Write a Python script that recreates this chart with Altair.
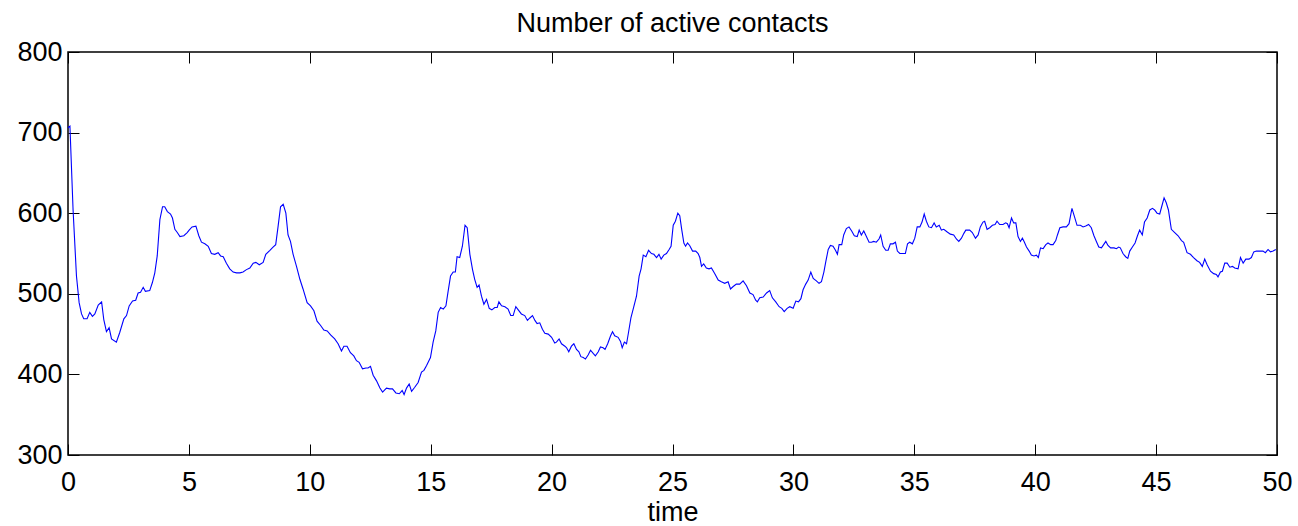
import altair as alt
import pandas as pd

# ---- data ----
time = [
    0.0, 0.08, 0.21, 0.35, 0.46, 0.56, 0.65, 0.79, 0.9, 1.01, 1.11, 1.25, 1.39, 1.48, 1.59, 1.7, 1.8, 2.0,
    2.14, 2.31, 2.42, 2.53, 2.67, 2.8, 2.9, 3.0, 3.11, 3.2, 3.38, 3.49, 3.59, 3.69, 3.8, 3.91, 4.0, 4.11,
    4.24, 4.32, 4.42, 4.52, 4.63, 4.79, 4.93, 5.01, 5.13, 5.29, 5.41, 5.52, 5.66, 5.8, 5.93, 6.07, 6.21,
    6.31, 6.42, 6.55, 6.69, 6.83, 6.97, 7.11, 7.24, 7.38, 7.52, 7.66, 7.77, 7.91, 8.07, 8.18,
    8.35, 8.48, 8.59, 8.69, 8.79, 8.9, 9.01, 9.1, 9.2, 9.31, 9.45, 9.59, 9.72, 9.89, 10.03, 10.17, 10.3,
    10.44, 10.58, 10.72, 10.86, 11.03, 11.17, 11.31, 11.41, 11.54, 11.68, 11.82, 11.93, 12.04, 12.18,
    12.32, 12.41, 12.51, 12.62, 12.76, 12.9, 13.01, 13.17, 13.31, 13.42, 13.56, 13.7, 13.82, 13.9, 14.0,
    14.11, 14.21, 14.34, 14.48, 14.62, 14.72, 14.83, 14.99, 15.1, 15.21, 15.31, 15.41, 15.52, 15.63,
    15.72, 15.82, 15.93, 16.02, 16.09, 16.2, 16.31, 16.42,
    16.51, 16.62, 16.73, 16.82, 16.92, 17.0, 17.1, 17.2, 17.31, 17.42, 17.53, 17.65, 17.75, 17.82, 17.93,
    18.07, 18.2, 18.31, 18.41, 18.52, 18.62, 18.75, 18.89, 19.0, 19.1, 19.21, 19.31, 19.4, 19.51, 19.62,
    19.72, 19.86, 20.0, 20.13, 20.2, 20.31, 20.41, 20.55, 20.62, 20.71, 20.82, 20.92, 21.03, 21.13,
    21.21, 21.31, 21.4, 21.51, 21.61, 21.72, 21.81, 21.93, 22.02, 22.13, 22.21, 22.32, 22.44, 22.52,
    22.61, 22.75, 22.85, 22.92, 23.01, 23.1, 23.18, 23.28, 23.4, 23.51, 23.62, 23.7, 23.79, 23.9, 24.01,
    24.13, 24.23, 24.34, 24.44, 24.53, 24.64,
    24.75, 24.86, 24.94, 25.03, 25.12, 25.22, 25.3, 25.38, 25.47, 25.54, 25.62, 25.71, 25.83, 25.96,
    26.06, 26.13, 26.2, 26.29, 26.4, 26.51, 26.61, 26.75, 26.89, 27.02, 27.16, 27.3, 27.4, 27.51, 27.64,
    27.78, 27.92, 28.06, 28.2, 28.33, 28.44, 28.51, 28.61, 28.75, 28.89, 29.02, 29.13, 29.27, 29.41,
    29.52, 29.62, 29.74, 29.85, 29.99, 30.1, 30.21, 30.31, 30.4, 30.51, 30.61, 30.72, 30.82, 30.95,
    31.06, 31.16, 31.26, 31.34, 31.44, 31.53, 31.64, 31.74, 31.82, 31.89, 32.0, 32.08, 32.19, 32.3,
    32.41, 32.52, 32.64, 32.72, 32.81, 32.91, 32.99,
    33.13, 33.23, 33.32, 33.43, 33.54, 33.61, 33.71, 33.82, 33.92, 34.01, 34.12, 34.22, 34.3, 34.4,
    34.54, 34.63, 34.72, 34.81, 34.92, 35.02, 35.12, 35.23, 35.32, 35.41, 35.5, 35.6, 35.71, 35.82,
    35.91, 36.03, 36.12, 36.22, 36.35, 36.49, 36.63, 36.74, 36.84, 36.95, 37.05, 37.13, 37.29, 37.4,
    37.53, 37.64, 37.73, 37.84, 37.91, 38.01, 38.12, 38.23, 38.34, 38.42, 38.53, 38.67, 38.78, 38.85,
    38.92, 39.02, 39.11, 39.2, 39.29, 39.39, 39.47, 39.54, 39.64, 39.75, 39.84, 39.95, 40.05, 40.13,
    40.22, 40.33, 40.44, 40.53, 40.64, 40.74, 40.85, 40.92, 41.02, 41.15,
    41.29, 41.4, 41.52, 41.62, 41.73, 41.87, 41.98, 42.09, 42.21, 42.32, 42.43, 42.53, 42.63, 42.74,
    42.83, 42.92, 43.01, 43.12, 43.26, 43.36, 43.45, 43.52, 43.63, 43.74, 43.83, 43.91, 44.02, 44.13,
    44.23, 44.32, 44.43, 44.52, 44.63, 44.74, 44.85, 44.94, 45.04, 45.15, 45.23, 45.33, 45.42, 45.51,
    45.63, 45.77, 45.91, 46.05, 46.14, 46.28, 46.42, 46.55, 46.69, 46.8, 46.91, 47.01, 47.11, 47.25,
    47.38, 47.49, 47.56, 47.66, 47.74, 47.84, 47.94, 48.05, 48.16, 48.25, 48.39, 48.49, 48.6, 48.71,
    48.84, 48.94, 49.04, 49.15, 49.29, 49.42, 49.52, 49.63, 49.73, 49.84, 49.95,
]
contacts = [
    706, 708, 604, 522, 489, 475, 469, 469, 477, 472, 475, 486, 490, 468, 453, 458, 444, 440,
    452, 469, 473, 485, 491, 492, 501, 502, 508, 503, 504, 514, 526, 547, 592, 608, 608, 602,
    599, 594, 580, 576, 571, 572, 576, 579, 583, 584, 572, 564, 562, 559, 550, 549, 551,
    547, 546, 538, 531, 527, 526, 526, 527, 530, 532, 538, 539, 536, 539, 549,
    554, 558, 561, 584, 608, 611, 600, 573, 565, 549, 534, 518, 506, 489, 485, 479, 466,
    461, 455, 454, 449, 444, 438, 429, 435, 435, 427, 423, 417, 415, 407,
    408, 408, 410, 399, 392, 383, 378, 383, 382, 382, 377, 376, 380, 375, 383,
    388, 379, 384, 390, 403, 405, 411, 421, 440, 454, 477, 483, 481, 485,
    503, 522, 527, 527, 546, 545, 559, 585,
    582, 549, 530, 518, 508, 511, 497, 487, 493, 482, 480, 483, 483, 490, 485,
    484, 481, 473, 473, 484, 480, 475, 473, 467, 470, 473, 467, 463, 464, 456,
    451, 450, 446, 439, 440, 444, 438, 435, 433, 428, 435, 438, 431, 428,
    422, 421, 419, 424, 430, 426, 423, 428, 434, 433, 431, 438, 448, 453,
    448, 446, 441, 433, 440, 438, 452, 470, 484, 497, 522, 531, 548, 546, 554,
    550, 549, 545, 549, 543, 548,
    550, 555, 559, 585, 590, 600, 597, 580, 563, 559, 563, 560, 553, 553,
    550, 545, 534, 537, 532, 531, 532, 525, 517, 515, 513, 515, 506, 509, 512,
    512, 516, 510, 501, 499, 492, 490, 495, 496, 501, 504, 495, 490, 484,
    482, 478, 482, 484, 482, 491, 490, 494, 505, 512, 517, 527, 519, 516,
    513, 515, 527, 540, 555, 560, 559, 554, 549, 561, 561, 573, 581, 583,
    578, 572, 571, 579, 573, 578, 573,
    564, 564, 565, 564, 568, 573, 559, 554, 554, 562, 562, 564, 553, 550,
    550, 550, 562, 564, 562, 569, 583, 583, 589, 599, 590, 583, 582, 588,
    583, 585, 579, 580, 577, 574, 573, 568, 565, 569, 575, 579, 579, 576,
    569, 573, 583, 589, 590, 580, 582, 585, 586, 590, 586, 586, 588, 587,
    582, 594, 588, 588, 571, 565, 569, 565, 558, 553, 548, 547, 548, 545,
    557, 556, 561, 563, 561, 561, 566, 573, 582, 583,
    583, 587, 606, 596, 585, 585, 583, 584, 586, 582, 572, 565, 558, 557,
    561, 565, 560, 557, 557, 556, 558, 557, 550, 546, 544, 553, 558, 563,
    572, 579, 573, 589, 594, 604, 606, 604, 600, 599, 608, 619, 613, 604,
    580, 576, 572, 566, 564, 551, 549, 545, 541, 539, 534, 543, 536, 528,
    525, 524, 521, 527, 528, 538, 538, 533, 534, 532, 531, 545, 538, 543,
    543, 545, 552, 553, 553, 553, 551, 555, 552, 553, 555,
]
x_ticks = [0, 5, 10, 15, 20, 25, 30, 35, 40, 45, 50]
y_ticks = [300, 400, 500, 600, 700, 800]
title_text = "Number of active contacts"
x_title = "time"

df = pd.DataFrame({"time": time, "contacts": contacts})

W, H = 1209, 403
FONT = "Liberation Sans"
FS = 27
TICK = 11

xs = alt.Scale(domain=[0, 50], nice=False, zero=False)
ys = alt.Scale(domain=[300, 800], nice=False, zero=False)

base = alt.Chart(df)

main = base.mark_line(color="#0000ff", strokeWidth=1.1).encode(
    x=alt.X(
        "time:Q",
        scale=xs,
        axis=alt.Axis(
            orient="bottom", values=x_ticks, ticks=False, tickSize=0, domain=False, grid=False,
            labelPadding=14, labelFontSize=FS, labelFont=FONT, labelColor="black",
            labelFlush=False, labelOverlap=False,
            title=x_title, titleFontSize=FS, titleFont=FONT, titleFontWeight="normal",
            titleColor="black", titlePadding=4,
        ),
    ),
    y=alt.Y(
        "contacts:Q",
        scale=ys,
        axis=alt.Axis(
            orient="left", values=y_ticks, ticks=False, tickSize=0, domain=False, grid=False,
            labelPadding=6, labelFontSize=FS, labelFont=FONT, labelColor="black",
            labelFlush=False, labelOverlap=False, title=None,
        ),
    ),
)


def tick_axis(orient, vals):
    return alt.Axis(
        orient=orient, values=vals, labels=False, domain=False, grid=False, ticks=True,
        tickSize=TICK, tickColor="black", tickWidth=1, offset=-TICK, title=None,
    )


layer_bl = base.mark_line(strokeOpacity=0).encode(
    x=alt.X("time:Q", scale=xs, axis=tick_axis("bottom", x_ticks)),
    y=alt.Y("contacts:Q", scale=ys, axis=tick_axis("left", y_ticks)),
)
layer_tr = base.mark_line(strokeOpacity=0).encode(
    x=alt.X("time:Q", scale=xs, axis=tick_axis("top", x_ticks)),
    y=alt.Y("contacts:Q", scale=ys, axis=tick_axis("right", y_ticks)),
)

chart = (
    alt.layer(main, layer_bl, layer_tr)
    .resolve_axis(x="independent", y="independent")
    .properties(
        width=W,
        height=H,
        title=alt.TitleParams(
            title_text, font=FONT, fontSize=FS, fontWeight="normal", color="black",
            anchor="middle", frame="group", offset=0,
        ),
        autosize=alt.AutoSizeParams(type="none"),
        padding={"left": 68, "top": 52, "right": 21, "bottom": 71},
        background="white",
    )
    .configure_view(stroke="black", strokeWidth=1.5)
)

chart.save("out.html", embed_options={"renderer": "svg", "actions": False})
